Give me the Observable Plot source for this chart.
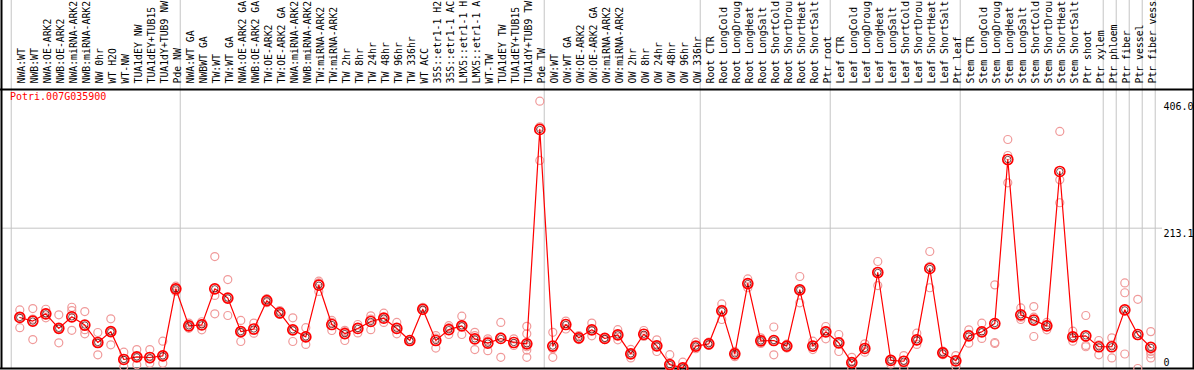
<!DOCTYPE html>
<html>
<head>
<meta charset="utf-8">
<script src="https://cdn.jsdelivr.net/npm/d3@7"></script>
<script src="https://cdn.jsdelivr.net/npm/@observablehq/plot@0.6"></script>
<style>
  html, body { margin: 0; padding: 0; background: white; overflow: hidden; }
</style>
</head>
<body>
<div id="chart"></div>
<script>
const title = "Potri.007G035900";

// labels as shown in the chart (truncated to the column-header height)
const labels = [
  "NWA:WT","NWB:WT","NWA:OE-ARK2","NWB:OE-ARK2","NWA:miRNA-ARK2","NWB:miRNA-ARK2","NW 0hr","WT H2O","WT-NW","TUA1dEY NW","TUA1dEY+TUB15","TUA1dY+TUB9 NW","Pde NW",
  "NWA:WT GA","NWBWT GA","TW:WT","TW:WT GA","NWA:OE-ARK2 GA","NWB:OE-ARK2 GA","TW:OE-ARK2","TW:OE-ARK2 GA","NWA:miRNA-ARK2","NWB:miRNA-ARK2","TW:miRNA-ARK2","TW:miRNA-ARK2","TW 2hr","TW 8hr","TW 24hr","TW 48hr","TW 96hr","TW 336hr","WT ACC","35S::etr1-1 H2","35S::etr1-1 AC","LMX5::etr1-1 H","LMX5::etr1-1 A","WT-TW","TUA1dEY TW","TUA1dEY+TUB15","TUA1dY+TUB9 TW","Pde TW",
  "OW:WT","OW:WT GA","OW:OE-ARK2","OW:OE-ARK2 GA","OW:miRNA-ARK2","OW:miRNA-ARK2","OW 2hr","OW 8hr","OW 24hr","OW 48hr","OW 96hr","OW 336hr",
  "Root CTR","Root LongCold","Root LongDroug","Root LongHeat","Root LongSalt","Root ShortCold","Root ShortDrou","Root ShortHeat","Root ShortSalt","Ptr root",
  "Leaf CTR","Leaf LongCold","Leaf LongDroug","Leaf LongHeat","Leaf LongSalt","Leaf ShortCold","Leaf ShortDrou","Leaf ShortHeat","Leaf ShortSalt","Ptr leaf",
  "Stem CTR","Stem LongCold","Stem LongDroug","Stem LongHeat","Stem LongSalt","Stem ShortCold","Stem ShortDrou","Stem ShortHeat","Stem ShortSalt","Ptr shoot","Ptr xylem",
  "Ptr phloem","Ptr fiber","Ptr vessel","Ptr fiber vess"
];

const means = [
  77.5,72,83,61,78.5,66,39.5,56,13.7,17.7,16.7,19.2,121,
  64.8,66.3,121,107,56,60,103,84.5,58.7,48,126.5,66.8,53,60.8,71.4,76.4,60.8,42.5,90,42.5,59,64.8,45,38.5,45.6,39.5,37.5,363,
  34,66.8,46.6,58.7,45.6,51,22.3,52,34.4,6,1,34,
  37.5,87.6,22.3,129,42,42.5,34,119.5,34,55.7,
  39,9,30.4,145.8,12.2,11,43.5,151.9,23.8,11.6,
  49.6,55.7,68.3,317.4,81.5,73.4,64.8,299.2,48,49.6,33,
  33,89,51.6,32
];

const replicates = [
  [89,77,62],[91,75,44],[90,84,77],[81.5,61,39],[93,88,58],[86.5,59,52.7],[54.7,39,20.8],[75.5,56,36],[24.8,13,3],[28.8,18,5.6],[28.8,14,8],[41.5,18,8],[125,121,117],
  [69,64,61],[71,68,58.8],[170,111,83],[135,107,80.5],[73,55,41],[69,58,53.7],[106,103,100],[88,84,82],[77,58,41],[62,47,36.5],[132.6,130,117],[73,70,57.7],[58,56,42.5],[66.8,62,54],[80,75,59],[84,76,70],[70,60,52.6],[43,42,41],[93,90,88],[50,46,31],[65,62,51.6],[79.5,64,51.6],[55,50,28.8],[45,42,27],[70,48,17],[45,38,35],[64,52.6,37,33,28,17],[406,367,316],
  [55,30,17],[72,68,60],[50,46,44],[69,58,49.6],[47,45,44],[59,51,43.5],[29,22,16],[57.7,50,48.6],[43.5,34,25.8],[21,6,1],[9.6,1,0],[40,34,30],
  [40,37,35],[98,90,74.4],[26,22,18],[136,130,122.6],[46.6,42,38],[63,43,20.8],[37,34,31],[139.7,119,99.8],[41.5,32,28.8],[63.8,57,45],
  [51.6,40,25.8],[17,10,0],[37.5,30,24.8],[162.5,147,126],[14,12,7],[19.7,12,0],[53.7,42,36.5],[177.7,155,122.6],[26.3,24,21],[19.7,13,3],
  [58.8,52,38.5],[68.8,55,45.6],[127,39.5,38],[347.8,323.5,282],[92,78,74.4],[94,78,48.6],[70,66,58.8],[360,286.6,251.7],[56.7,48,41.5],[80.5,35,33],[42.5,36,20.8],
  [46.6,36,16],[130,115,22],[105,50,0],[56,22,16,26]
];

// first index of each group, plus the end
const groupStarts = [0, 13, 41, 53, 63, 73, 84, 85, 86, 87, 88];

const yTicks = [406.0, 213.1];
const yZero = [0];

const xDomain = [-1.408, 90.285];
const yDomain = [0, 423.7];

const mono = "'DejaVu Sans Mono', 'Liberation Mono', monospace";

const meanData = means.map((v, i) => ({i, v}));
const repData = replicates.flatMap((arr, i) => arr.map(v => ({i, v})));
const labelData = labels.map((t, i) => ({i, t}));

const chart = Plot.plot({
  width: 1194,
  height: 370,
  marginTop: 89,
  marginBottom: 2,
  marginLeft: 1,
  marginRight: 1,
  x: {type: "linear", domain: xDomain, axis: null},
  y: {type: "linear", domain: yDomain, axis: null},
  style: {fontFamily: mono, fontSize: "10px", background: "white"},
  marks: [
    // group separators
    Plot.ruleX(groupStarts, {x: d => d - 0.66, stroke: "#c4c4c4", strokeWidth: 1, insetTop: -89}),
    // gridline
    Plot.ruleY([yTicks[1]], {stroke: "#c4c4c4", strokeWidth: 1, insetRight: 31}),
    // frame lines
    Plot.ruleX(xDomain, {stroke: "black", strokeWidth: 2, insetTop: -89}),
    Plot.ruleY(yDomain, {stroke: "black", strokeWidth: 2, insetLeft: -1, insetRight: -1}),
    // category labels
    Plot.text(labelData, {
      x: "i", text: "t", frameAnchor: "top", rotate: -90, textAnchor: "start",
      dy: -6, dx: -2, fill: "black", fontFamily: mono, fontSize: 9.8
    }),
    // title
    Plot.text([title], {
      frameAnchor: "top-left", text: d => d, textAnchor: "start", lineAnchor: "top",
      dx: 8.5, dy: 3, fill: "#ff0000", fontFamily: mono, fontSize: 10
    }),
    // right axis labels
    Plot.text(yTicks, {
      y: d => d, text: d => d.toFixed(1), frameAnchor: "right", textAnchor: "start",
      lineAnchor: "top", dx: -30, dy: 2, fill: "black", fontFamily: mono, fontSize: 10
    }),
    Plot.text(yZero, {
      y: d => d, text: d => String(d), frameAnchor: "right", textAnchor: "start",
      lineAnchor: "bottom", dx: -30, dy: -2.5, fill: "black", fontFamily: mono, fontSize: 10
    }),
    // replicate points
    Plot.dot(repData, {x: "i", y: "v", r: 4, stroke: "#f09a9a", strokeWidth: 1.2, fill: "none"}),
    // mean line
    Plot.line(meanData, {x: "i", y: "v", stroke: "#ff0000", strokeWidth: 1.2}),
    // mean markers
    Plot.dot(meanData, {x: "i", y: "v", r: 5, stroke: "#ff0000", strokeWidth: 1.7, fill: "none"}),
    Plot.dot(meanData, {x: "i", y: "v", r: 3.2, stroke: "#400000", strokeWidth: 0.7, fill: "none"})
  ]
});

document.getElementById("chart").appendChild(chart);
</script>
</body>
</html>
